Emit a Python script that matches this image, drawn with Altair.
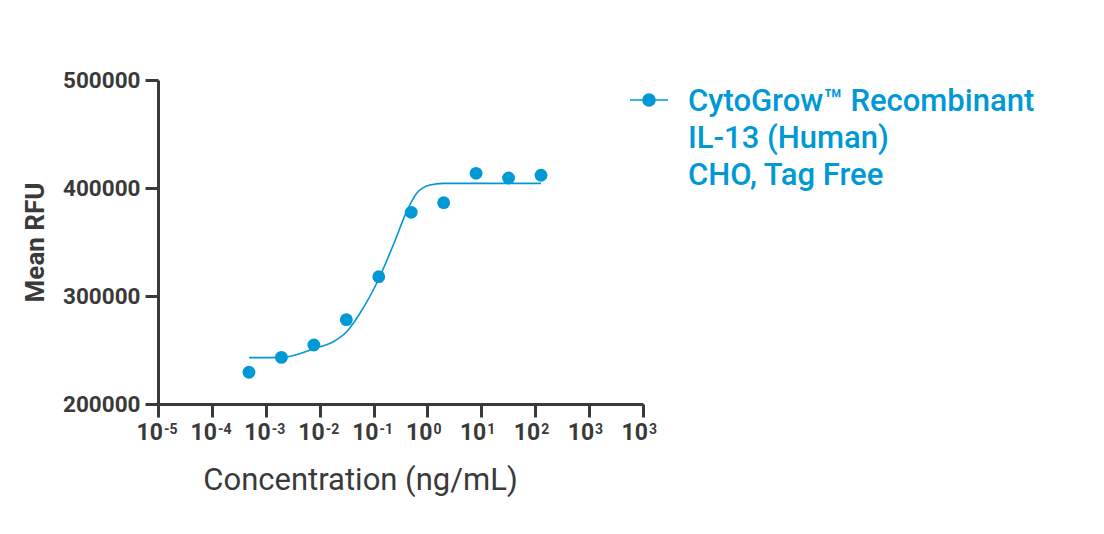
import json
import altair as alt
import pandas as pd

BLUE = "#0099D6"
DARK = "#3a3a3a"

# measured points
conc = [0.000488, 0.00195, 0.00781, 0.03125, 0.125, 0.5, 2, 8, 32, 128]
rfu = [229400, 243200, 254600, 278100, 317900, 377500, 386400, 413600, 409300, 411800]

# fitted curve
fit_conc = [0.00049, 0.00202, 0.00818, 0.0179, 0.0317, 0.056, 0.122, 0.232, 0.411, 0.631, 1.11, 1.96, 10, 128]
fit_rfu = [242900, 243200, 251600, 257700, 266900, 284000, 314800, 347200, 378100, 395100, 402800, 404300, 404300, 404300]

series_name = "CytoGrow™ Recombinant IL-13 (Human) CHO, Tag Free"
legend_lines = ["CytoGrow™ Recombinant", "IL-13 (Human)", "CHO, Tag Free"]

x_ticks = [1e-5, 1e-4, 1e-3, 1e-2, 1e-1, 1e0, 1e1, 1e2, 1e3, 1e4]
x_tick_base = ["10"] * 10
x_tick_exp = ["-5", "-4", "-3", "-2", "-1", "0", "1", "2", "3", "3"]
y_ticks = [200000, 300000, 400000, 500000]

PLOT_W, PLOT_H = 485, 324

pts = pd.DataFrame({"conc": conc, "rfu": rfu, "series": series_name})
fit = pd.DataFrame({"conc": fit_conc, "rfu": fit_rfu})
ticks_df = pd.DataFrame({"conc": x_ticks, "base": x_tick_base, "exp": x_tick_exp})

x_scale = alt.Scale(type="log", domain=[1e-5, 1e4], nice=False)

x_enc = alt.X(
    "conc:Q",
    scale=x_scale,
    axis=alt.Axis(
        values=x_ticks,
        labels=False,
        title="Concentration (ng/mL)",
        titleFontWeight="normal",
        titleFontSize=31,
        titleX=202,
        titleY=85,
        titleAlign="center",
        titleBaseline="alphabetic",
        grid=False,
    ),
)
y_enc = alt.Y(
    "rfu:Q",
    scale=alt.Scale(domain=[200000, 500000], nice=False, zero=False),
    axis=alt.Axis(
        values=y_ticks,
        format="d",
        title="Mean RFU",
        titleFontWeight="bold",
        titleFontSize=26,
        titlePadding=14,
        labelPadding=5,
        grid=False,
    ),
)

r = 0.316
sym_dy = -0.58
sym_path = (
    f"M-1,{sym_dy}L1,{sym_dy}"
    f"M{r},{sym_dy}A{r},{r},0,1,1,{-r},{sym_dy}A{r},{r},0,1,1,{r},{sym_dy}Z"
)

line = alt.Chart(fit).mark_line(color=BLUE, strokeWidth=1.6, interpolate="monotone").encode(
    x=x_enc, y=y_enc
)

points = alt.Chart(pts).mark_point(filled=True, size=165, opacity=1).encode(
    x=x_enc,
    y=y_enc,
    color=alt.Color(
        "series:N",
        scale=alt.Scale(range=[BLUE]),
        legend=alt.Legend(
            title=None,
            orient="none",
            legendX=471,
            legendY=11,
            padding=0,
            symbolType=sym_path,
            symbolSize=1444,
            symbolStrokeWidth=1.6,
            symbolStrokeColor=BLUE,
            symbolFillColor=BLUE,
            labelExpr=json.dumps(legend_lines, ensure_ascii=False),
            labelBaseline="alphabetic",
            labelFontSize=31,
            labelFontWeight=500,
            labelColor=BLUE,
            labelFont="Roboto",
            labelOffset=19,
            labelLimit=0,
        ),
    ),
)

tick_base = alt.Chart(ticks_df).mark_text(
    align="right", baseline="alphabetic", dx=5, dy=36,
    font="Roboto", fontWeight="bold", fontSize=23, color=DARK,
).encode(x=alt.X("conc:Q", scale=x_scale), y=alt.value(PLOT_H), text="base:N")

tick_exp = alt.Chart(ticks_df).mark_text(
    align="left", baseline="alphabetic", dx=6, dy=30,
    font="Roboto", fontWeight="bold", fontSize=14, color=DARK,
).encode(x=alt.X("conc:Q", scale=x_scale), y=alt.value(PLOT_H), text="exp:N")

chart = (
    alt.layer(line, points, tick_base, tick_exp)
    .properties(
        width=PLOT_W,
        height=PLOT_H,
        autosize=alt.AutoSizeParams(type="none"),
        padding={"left": 150, "top": 72, "right": 453, "bottom": 122},
    )
    .configure(font="Roboto", style={"guide-label": {"lineHeight": 37}})
    .configure_view(stroke=None)
    .configure_axis(
        domainColor=DARK,
        domainWidth=3,
        tickColor=DARK,
        tickWidth=3,
        tickSize=13,
        labelFont="Roboto",
        labelFontWeight="bold",
        labelFontSize=22.5,
        labelColor=DARK,
        titleFont="Roboto",
        titleColor=DARK,
    )
)

chart.save("out.html", embed_options={"renderer": "svg", "actions": False})
